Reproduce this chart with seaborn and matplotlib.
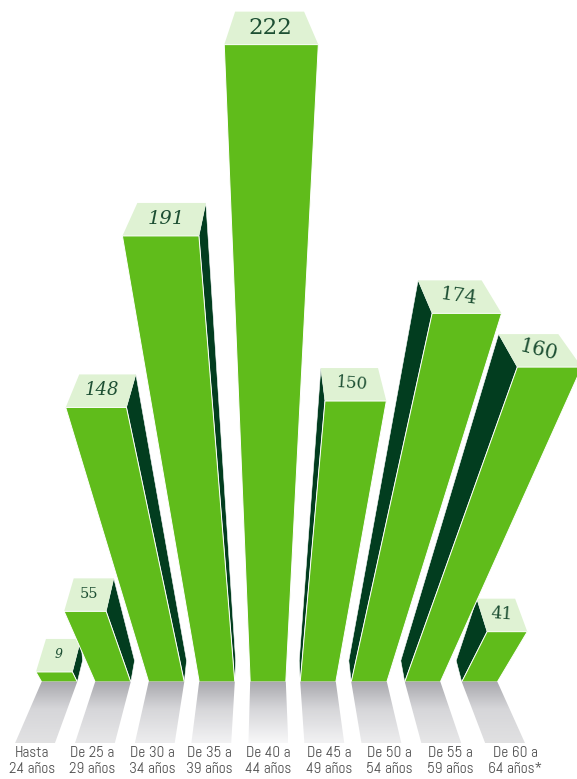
import numpy as np
import matplotlib
matplotlib.use('Agg')
import matplotlib.pyplot as plt
from matplotlib.colors import LinearSegmentedColormap
from matplotlib.patches import Polygon
from matplotlib.transforms import Transform
import seaborn as sns

# data
age_groups = ['Hasta\n24 años', 'De 25 a\n29 años', 'De 30 a\n34 años', 'De 35 a\n39 años', 'De 40 a\n44 años',
              'De 45 a\n49 años', 'De 50 a\n54 años', 'De 55 a\n59 años', 'De 60 a\n64 años*']
values = [9, 55, 148, 191, 222, 150, 174, 160, 41]

# layout, in pixels of the floor line
bar_centers = [59.5, 113, 166.5, 217, 268, 318, 369, 422.5, 479.5]
label_centers = [32, 92, 152, 209, 268, 329, 389, 450, 515]
value_sizes = [9, 10.5, 13, 14, 16.5, 12, 14, 14.5, 12.5]
value_angles = [0, 0, 0, 0, 0, -4, -8, -14, -4]
value_styles = ['italic', 'normal', 'italic', 'italic', 'normal', 'normal', 'normal', 'normal', 'normal']

GREEN = '#60BC1B'
DARK = '#023D1F'
CAP = '#DFF2D3'

FLOOR = 682
ALPHA = 0.0028       # perspective of the value axis
VERT_X, VERT_Y = 266, 1070
HORIZ_X, HORIZ_Y = 265, -79
CAP_RISE = 33
FOOT_RISE = 21.3


def project(x, v):
    w = 1 - ALPHA * v
    return (x - ALPHA * VERT_X * v) / w, (FLOOR - ALPHA * VERT_Y * v) / w


def recede(u, y, rise):
    s = (y - rise - HORIZ_Y) / (y - HORIZ_Y)
    return HORIZ_X + (u - HORIZ_X) * s, y - rise


class Perspective(Transform):
    input_dims = 2
    output_dims = 2

    def transform_non_affine(self, values):
        values = np.asarray(values, dtype=float)
        u, y = project(values[:, 0], values[:, 1])
        return np.column_stack([u, y])


sns.set_theme(style='white')
fig = plt.figure(figsize=(5.77, 7.79), dpi=100)
ax = fig.add_axes([0, 0, 1, 1])

sns.barplot(x=bar_centers, y=values, native_scale=True, width=35.6 / 50, color=GREEN, saturation=1,
            errorbar=None, ax=ax)
bars = sorted(ax.patches, key=lambda p: p.get_x())

persp = Perspective() + ax.transData

for i, bar in enumerate(bars):
    left = bar.get_x()
    right = left + bar.get_width()
    val = bar.get_height()
    order = 10 - abs(i - 4)

    bar.set_transform(persp)
    bar.set_edgecolor('white')
    bar.set_linewidth(0.7)
    bar.set_zorder(order + 0.3)

    # top of the bar
    xl, ytop = project(left, val)
    xr, _ = project(right, val)
    bl = recede(xl, ytop, CAP_RISE)
    br = recede(xr, ytop, CAP_RISE)
    ax.add_patch(Polygon([(xl, ytop), (xr, ytop), br, bl], facecolor=CAP, edgecolor='none', zorder=order + 0.2))

    # dark side, only the one turned to the middle
    side_x = None
    if right < HORIZ_X:
        side_x = right
    elif left > HORIZ_X:
        side_x = left
    if side_x is not None:
        tx, ty = project(side_x, val)
        fx, fy = project(side_x, 0)
        ax.add_patch(Polygon([(tx, ty), recede(tx, ty, CAP_RISE), recede(fx, fy, FOOT_RISE), (fx, fy)],
                             facecolor=DARK, edgecolor='white', linewidth=0.4, zorder=order + 0.1))

    # the number, laid on the top
    ax.text((xl + xr + bl[0] + br[0]) / 4, ytop - CAP_RISE / 2 - 0.5, str(values[i]), family='DejaVu Serif',
            fontsize=value_sizes[i], rotation=value_angles[i], style=value_styles[i], color='#1D4F33',
            ha='center', va='center', zorder=order + 0.4)

    # reflection on the floor
    s = 1.12
    y0, y1 = FLOOR - 0.4, 743.5
    shade = [(left, y0), (right, y0), (HORIZ_X + (right - HORIZ_X) * s, y1), (HORIZ_X + (left - HORIZ_X) * s, y1)]
    low = 0.97 - 0.09 * abs(left + 18 - HORIZ_X) / 215
    cmap = LinearSegmentedColormap.from_list('fade', [(0, '#A9A9AE'), (0.45, '#D6D6D9'), (1, (low, low, low + 0.005))])
    poly = Polygon(shade, transform=ax.transData)
    im = ax.imshow(np.linspace(0, 1, 64).reshape(-1, 1), cmap=cmap, aspect='auto', zorder=15,
                   extent=(min(p[0] for p in shade), max(p[0] for p in shade), y1, y0))
    im.set_clip_path(poly)

    ax.text(label_centers[i], 761, age_groups[i], family=['Abel', 'Liberation Sans'],
            fontsize=11, color='#505050', ha='center', va='center', linespacing=1.18)

ax.set_xlim(0, 577)
ax.set_ylim(779, 0)
ax.set_axis_off()

fig.savefig('out.png', dpi=100)
